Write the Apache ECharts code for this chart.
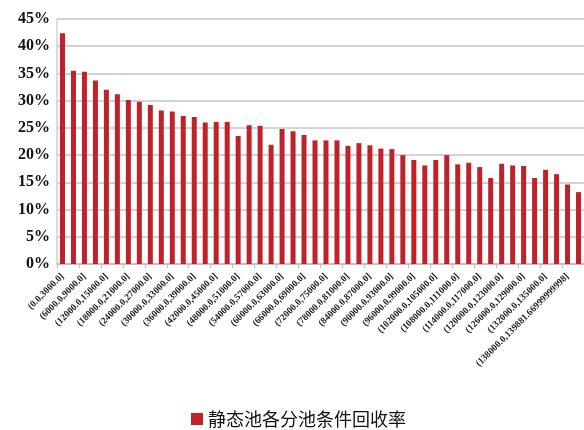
<!DOCTYPE html>
<html>
<head>
<meta charset="utf-8">
<script src="https://cdn.jsdelivr.net/npm/echarts@6/dist/echarts.min.js"></script>
<style>
html,body{margin:0;padding:0;background:#fff;}
#chart{width:584px;height:430px;}
</style>
</head>
<body>
<div id="chart"></div>
<script>
// Category labels (pool buckets)
var categories = [
  "(0.0,3000.0]", "(3000.0,6000.0]", "(6000.0,9000.0]", "(9000.0,12000.0]",
  "(12000.0,15000.0]", "(15000.0,18000.0]", "(18000.0,21000.0]", "(21000.0,24000.0]",
  "(24000.0,27000.0]", "(27000.0,30000.0]", "(30000.0,33000.0]", "(33000.0,36000.0]",
  "(36000.0,39000.0]", "(39000.0,42000.0]", "(42000.0,45000.0]", "(45000.0,48000.0]",
  "(48000.0,51000.0]", "(51000.0,54000.0]", "(54000.0,57000.0]", "(57000.0,60000.0]",
  "(60000.0,63000.0]", "(63000.0,66000.0]", "(66000.0,69000.0]", "(69000.0,72000.0]",
  "(72000.0,75000.0]", "(75000.0,78000.0]", "(78000.0,81000.0]", "(81000.0,84000.0]",
  "(84000.0,87000.0]", "(87000.0,90000.0]", "(90000.0,93000.0]", "(93000.0,96000.0]",
  "(96000.0,99000.0]", "(99000.0,102000.0]", "(102000.0,105000.0]", "(105000.0,108000.0]",
  "(108000.0,111000.0]", "(111000.0,114000.0]", "(114000.0,117000.0]", "(117000.0,120000.0]",
  "(120000.0,123000.0]", "(123000.0,126000.0]", "(126000.0,129000.0]", "(129000.0,132000.0]",
  "(132000.0,135000.0]", "(135000.0,138000.0]", "(138000.0,139881.66999999998]", "(139881.67,∞)"
];
// Conditional recovery rate per pool (%)
var recoveryRate = [
  42.4, 35.5, 35.3, 33.7, 32.0, 31.2, 30.1, 29.8, 29.2, 28.2, 28.0, 27.2,
  27.0, 26.0, 26.1, 26.1, 23.5, 25.5, 25.4, 21.9, 24.8, 24.4, 23.7, 22.7,
  22.7, 22.7, 21.7, 22.2, 21.8, 21.2, 21.1, 20.0, 19.1, 18.1, 19.1, 20.0,
  18.3, 18.6, 17.8, 15.8, 18.4, 18.1, 18.0, 15.8, 17.3, 16.5, 14.6, 13.2
];
var seriesName = "静态池各分池条件回收率";
var yTicks = { min: 0, max: 45, interval: 5 };

var chart = echarts.init(document.getElementById('chart'), null, {renderer: 'canvas'});
chart.setOption({
  animation: false,
  backgroundColor: '#ffffff',
  grid: { left: 57, top: 19, width: 528, height: 245, containLabel: false },
  legend: {
    data: [seriesName],
    left: 186, top: 405,
    itemWidth: 12, itemHeight: 12, itemGap: 10,
    icon: 'rect',
    textStyle: { fontSize: 18, color: '#111', fontFamily: 'Noto Sans CJK SC' }
  },
  xAxis: {
    type: 'category',
    data: categories,
    axisLine: { lineStyle: { color: '#bdbdbd', width: 1.5 } },
    axisTick: { show: true, lineStyle: { color: '#bdbdbd' }, length: 4 },
    axisLabel: {
      interval: 1,
      rotate: 45,
      margin: 11,
      fontSize: 9.5,
      fontWeight: 'bold',
      color: '#1a1a1a',
      fontFamily: 'Liberation Serif'
    }
  },
  yAxis: {
    type: 'value',
    min: yTicks.min, max: yTicks.max, interval: yTicks.interval,
    axisLine: { show: true, lineStyle: { color: '#d0d0d0', width: 1.5 } },
    axisTick: { show: false },
    splitLine: { lineStyle: { color: '#c4c4c4', width: 1.5 } },
    axisLabel: {
      formatter: '{value}%',
      margin: 7,
      fontSize: 16,
      fontWeight: 'bold',
      color: '#111',
      fontFamily: 'Liberation Serif'
    }
  },
  series: [{
    name: seriesName,
    type: 'bar',
    data: recoveryRate,
    barWidth: 5,
    itemStyle: { color: '#c0222c' }
  }]
});
</script>
</body>
</html>
